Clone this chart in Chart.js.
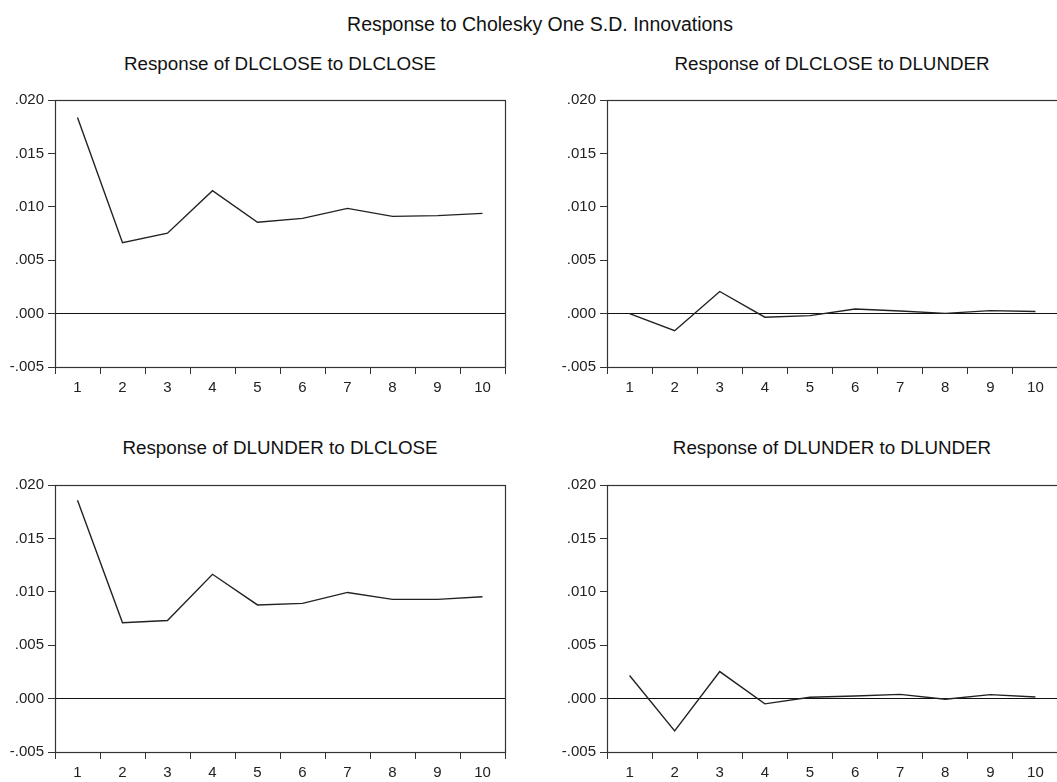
<!DOCTYPE html>
<html>
<head>
<meta charset="utf-8">
<script src="https://cdn.jsdelivr.net/npm/chart.js@4"></script>
<style>
  html, body { margin: 0; padding: 0; background: #fff; overflow: hidden; }
  body { width: 1057px; height: 782px; position: relative; font-family: "Liberation Sans", Arial, sans-serif; color: #111; }
  canvas { position: absolute; }
  .ttl { position: absolute; white-space: nowrap; text-align: center; line-height: 20px; }
</style>
</head>
<body>
<div class="ttl" id="mainTitle" style="left:240px; width:600px; top:14px; font-size:19.5px;">Response to Cholesky One S.D. Innovations</div>
<div class="ttl" style="left:30px; width:500px; top:54px; font-size:18.8px;">Response of DLCLOSE to DLCLOSE</div>
<div class="ttl" style="left:582px; width:500px; top:54px; font-size:18.8px;">Response of DLCLOSE to DLUNDER</div>
<div class="ttl" style="left:30px; width:500px; top:438px; font-size:18.8px;">Response of DLUNDER to DLCLOSE</div>
<div class="ttl" style="left:582px; width:500px; top:438px; font-size:18.8px;">Response of DLUNDER to DLUNDER</div>

<canvas id="c1" width="515" height="310" style="left:0px; top:87px;"></canvas>
<canvas id="c2" width="516" height="310" style="left:552px; top:87px;"></canvas>
<canvas id="c3" width="515" height="310" style="left:0px; top:472px;"></canvas>
<canvas id="c4" width="516" height="310" style="left:552px; top:472px;"></canvas>

<script>
// periods after the shock
var periods = ['1', '2', '3', '4', '5', '6', '7', '8', '9', '10'];

// impulse responses
var closeToClose = [0.01836, 0.00664, 0.00753, 0.01151, 0.00855, 0.00892, 0.00985, 0.00910, 0.00917, 0.00938];
var closeToUnder = [0.00000, -0.00160, 0.00207, -0.00034, -0.00019, 0.00043, 0.00025, 0.00002, 0.00028, 0.00019];
var underToClose = [0.01858, 0.00710, 0.00731, 0.01164, 0.00877, 0.00892, 0.00994, 0.00929, 0.00929, 0.00954];
var underToUnder = [0.00216, -0.00302, 0.00253, -0.00049, 0.00012, 0.00025, 0.00040, -0.00006, 0.00037, 0.00015];

// y axis tick values
var yTicks = [-0.005, 0.000, 0.005, 0.010, 0.015, 0.020];

// EViews style box round the plot area
var framePlugin = {
    id: 'frame',
    afterDraw: function (chart) {
        var a = chart.chartArea;
        var ctx = chart.ctx;
        ctx.save();
        ctx.strokeStyle = '#333';
        ctx.lineWidth = 1.2;
        ctx.strokeRect(Math.round(a.left) + 0.5, Math.round(a.top) + 0.5,
            Math.round(a.right - a.left), Math.round(a.bottom - a.top));
        ctx.restore();
    }
};

function fmtTick(v) {
    var s = v.toFixed(3);
    return s.replace('0.', '.');
}

function drawPanel(id, values) {
    var ctx = document.getElementById(id).getContext('2d');
    return new Chart(ctx, {
        type: 'line',
        data: {
            labels: periods,
            datasets: [{
                data: values,
                borderColor: '#222',
                borderWidth: 1.4,
                pointRadius: 0,
                tension: 0,
                fill: false
            }]
        },
        options: {
            responsive: false,
            animation: false,
            layout: { padding: { top: 10, right: 10, left: 0, bottom: 0 } },
            plugins: {
                legend: { display: false },
                tooltip: { enabled: false }
            },
            scales: {
                x: {
                    type: 'category',
                    offset: true,
                    border: { display: false },
                    grid: {
                        offset: true,
                        drawOnChartArea: false,
                        drawTicks: true,
                        tickLength: 7,
                        tickColor: '#333'
                    },
                    ticks: {
                        color: '#222',
                        padding: 5,
                        maxRotation: 0,
                        autoSkip: false,
                        font: { family: '"Liberation Sans", Arial, sans-serif', size: 15 }
                    },
                    afterFit: function (scale) { scale.height = 30; }
                },
                y: {
                    min: -0.005,
                    max: 0.020,
                    border: { display: false },
                    afterBuildTicks: function (scale) {
                        scale.ticks = yTicks.map(function (v) { return { value: v }; });
                    },
                    grid: {
                        drawOnChartArea: true,
                        drawTicks: true,
                        tickLength: 7,
                        tickColor: '#333',
                        color: function (c) {
                            return (c.tick && Math.abs(c.tick.value) < 1e-9) ? '#111' : 'rgba(0,0,0,0)';
                        },
                        lineWidth: 1
                    },
                    ticks: {
                        color: '#222',
                        padding: 4,
                        font: { family: '"Liberation Sans", Arial, sans-serif', size: 15 },
                        callback: function (v) { return fmtTick(v); }
                    },
                    afterFit: function (scale) { scale.width = 55; }
                }
            }
        },
        plugins: [framePlugin]
    });
}

drawPanel('c1', closeToClose);
drawPanel('c2', closeToUnder);
drawPanel('c3', underToClose);
drawPanel('c4', underToUnder);
</script>
</body>
</html>
